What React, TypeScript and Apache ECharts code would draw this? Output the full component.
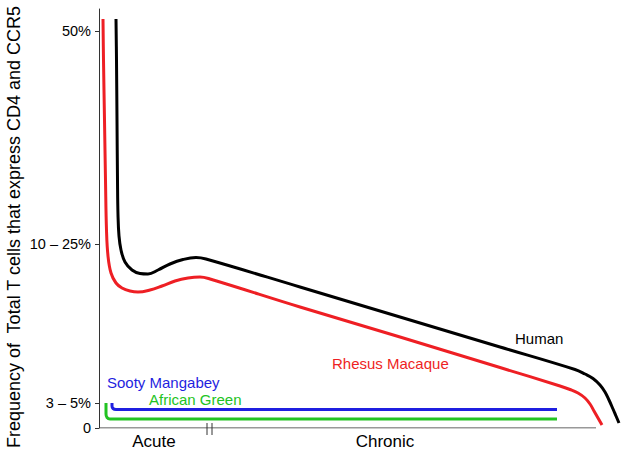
import React, { useEffect, useRef } from "react";
import * as echarts from "echarts";

// Schematic units: x = time (arbitrary), y = frequency scale (arbitrary, labelled ticks)
const yTickValues = [0, 25, 184, 397];
const yTickLabels = ["0", "3 – 5%", "10 – 25%", "50%"];
const xLabelValues = [55, 286];
const xLabelNames = ["Acute", "Chronic"];
const axisBreaks = [108, 113];
const xAxisEnd = 497;

const human: [number, number][] = [
  [17, 409], [17.5, 368], [18, 308], [18.5, 248], [19, 213], [20, 192], [22, 178], [26, 166],
  [33, 158], [41, 154.5], [49, 154], [59, 158], [71, 164], [84, 168.5], [97, 170.5], [107, 169],
  [201, 141], [301, 111], [401, 81], [476, 58.5], [486, 54], [494, 49.5], [501, 43], [506, 36],
  [510, 28], [514, 19], [517, 12], [520, 5],
];
const rhesus: [number, number][] = [
  [4, 409], [4.5, 368], [5.5, 308], [6.5, 248], [7.5, 198], [9, 172], [12, 155], [17, 145],
  [23, 140], [31, 137], [39, 136], [51, 138], [63, 142], [76, 147], [89, 150], [101, 151],
  [111, 149], [201, 121], [301, 91], [401, 60.5], [461, 42], [471, 38.5], [479, 35], [486, 30],
  [491, 24], [495, 17], [499, 10], [503, 3],
];
const sooty: [number, number][] = [
  [13, 25], [13, 22], [14, 19.5], [17, 18.5], [200, 18.5], [458, 18.5],
];
const african: [number, number][] = [
  [7, 25], [7, 14], [8, 10.5], [11, 9], [200, 9], [458, 9],
];

const FONT = "'Liberation Sans', Arial, Helvetica, sans-serif";
const BLACK = "#000000";
const RED = "#ee1f24";
const BLUE = "#1f1fe0";
const GREEN = "#22c322";

export default function App() {
  const ref = useRef<HTMLDivElement>(null);
  useEffect(() => {
    if (!ref.current) return;
    const chart = echarts.init(ref.current, null, { renderer: "svg" });
    const lineSeries = (name: string, data: [number, number][], color: string, smooth: number) => ({
      name,
      type: "line",
      data,
      smooth,
      symbol: "none",
      clip: false,
      lineStyle: { color, width: 3, join: "round", cap: "butt" },
    });
    chart.setOption({
      animation: false,
      backgroundColor: "#ffffff",
      grid: { left: 99, right: 4, top: 9, bottom: 26 },
      xAxis: {
        type: "value",
        min: 0,
        max: 522,
        axisLine: { show: false },
        axisTick: { show: false },
        splitLine: { show: false },
        axisLabel: {
          customValues: xLabelValues,
          formatter: (v: number) => xLabelNames[xLabelValues.indexOf(v)] ?? "",
          fontSize: 17,
          fontFamily: FONT,
          color: "#000",
          margin: 5,
        },
      },
      yAxis: {
        type: "value",
        min: 0,
        max: 419,
        axisLine: { show: true, lineStyle: { color: "#333", width: 1 } },
        axisTick: { show: true, customValues: yTickValues, length: 4, lineStyle: { color: "#333" } },
        splitLine: { show: false },
        axisLabel: {
          customValues: yTickValues,
          formatter: (v: number) => yTickLabels[yTickValues.indexOf(v)] ?? "",
          fontSize: 14.5,
          fontFamily: FONT,
          color: "#000",
          margin: 8,
        },
      },
      graphic: [
        {
          type: "text",
          x: 14,
          y: 227,
          rotation: Math.PI / 2,
          style: {
            text: "Frequency of  Total T cells that express CD4 and CCR5",
            fontSize: 18,
            fontFamily: FONT,
            fill: "#000",
            textAlign: "center",
            textVerticalAlign: "middle",
          },
        },
        { type: "text", x: 515, y: 338, style: { text: "Human", fontSize: 15, fontFamily: FONT, fill: "#000", textVerticalAlign: "middle" } },
        { type: "text", x: 332, y: 363, style: { text: "Rhesus Macaque", fontSize: 15, fontFamily: FONT, fill: RED, textVerticalAlign: "middle" } },
        { type: "text", x: 107, y: 382, style: { text: "Sooty Mangabey", fontSize: 15, fontFamily: FONT, fill: BLUE, textVerticalAlign: "middle" } },
        { type: "text", x: 149, y: 399, style: { text: "African Green", fontSize: 15, fontFamily: FONT, fill: GREEN, textVerticalAlign: "middle" } },
      ],
      series: [
        {
          type: "line",
          data: [[0, 0], [xAxisEnd, 0]],
          symbol: "none",
          silent: true,
          lineStyle: { color: "#333", width: 1 },
        },
        lineSeries("Human", human, BLACK, 0.4),
        lineSeries("Rhesus Macaque", rhesus, RED, 0.4),
        lineSeries("Sooty Mangabey", sooty, BLUE, 0.3),
        lineSeries("African Green", african, GREEN, 0.3),
        {
          type: "custom",
          data: axisBreaks.map((x) => [x, 0]),
          clip: false,
          renderItem: (params: any, api: any) => {
            const p = api.coord([api.value(0), api.value(1)]);
            return {
              type: "line",
              shape: { x1: p[0], y1: p[1] - 5, x2: p[0], y2: p[1] + 7 },
              style: { stroke: "#333", lineWidth: 1 },
            };
          },
        },
      ],
    });
    return () => chart.dispose();
  }, []);
  return (
    <div
      ref={ref}
      style={{ position: "fixed", left: 0, top: 0, width: 625, height: 454, background: "#fff" }}
    />
  );
}
